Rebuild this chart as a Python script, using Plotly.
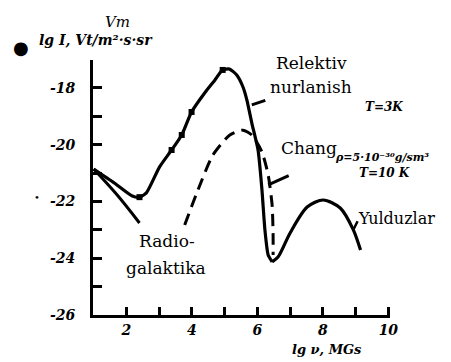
import plotly.graph_objects as go

# ---- data ----
rel_x = [1.0, 1.63, 2.18, 2.40, 2.61, 3.01, 3.38, 3.69, 3.99, 4.39, 4.70, 4.94, 5.15, 5.37, 5.56, 5.68, 5.83, 6.02, 6.14, 6.23, 6.33, 6.45]
rel_y = [-20.86, -21.35, -21.81, -21.85, -21.70, -20.79, -20.19, -19.66, -18.85, -18.18, -17.73, -17.37, -17.34, -17.55, -17.97, -18.43, -19.24, -20.19, -21.60, -23.0, -23.89, -24.13]

yul_x = [6.45, 6.63, 7.0, 7.52, 8.01, 8.53, 8.93, 9.15]
yul_y = [-24.13, -23.96, -23.11, -22.2, -21.95, -22.23, -23.0, -23.71]

radio_x = [1.0, 1.7, 2.40]
radio_y = [-20.86, -21.75, -22.76]

chang_x = [3.78, 4.15, 4.64, 5.16, 5.56, 5.83, 6.14, 6.33, 6.45, 6.48, 6.48]
chang_y = [-22.83, -21.70, -20.37, -19.66, -19.49, -19.66, -20.26, -21.07, -22.13, -23.18, -23.89]

obs_x = [2.40, 3.38, 3.69, 3.99, 4.94]
obs_y = [-21.85, -20.19, -19.66, -18.85, -17.37]

x_ticks = [2, 4, 6, 8, 10]
y_ticks = [-26, -24, -22, -20, -18]

# page offset of the browser's default body margin
OFF = 8
W, H = 451 - OFF, 362 - OFF
L, R, T, B = 93 - OFF, 390 - OFF, 60 - OFF, 315 - OFF

def px(x):
    return (x - OFF - L) / (R - L)

def py(y):
    return (B - (y - OFF)) / (B - T)

fig = go.Figure()
fig.add_trace(go.Scatter(x=rel_x, y=rel_y, mode="lines", line=dict(color="black", width=3.2, shape="spline", smoothing=0.6), hoverinfo="skip"))
fig.add_trace(go.Scatter(x=yul_x, y=yul_y, mode="lines", line=dict(color="black", width=3.2, shape="spline", smoothing=0.8), hoverinfo="skip"))
fig.add_trace(go.Scatter(x=radio_x, y=radio_y, mode="lines", line=dict(color="black", width=3, shape="spline"), hoverinfo="skip"))
fig.add_trace(go.Scatter(x=chang_x, y=chang_y, mode="lines", line=dict(color="black", width=3, dash="12px,7px", shape="spline", smoothing=0.6), hoverinfo="skip"))
fig.add_trace(go.Scatter(x=obs_x, y=obs_y, mode="markers", marker=dict(color="black", size=6, symbol="square"), hoverinfo="skip"))

serif = "DejaVu Serif, Liberation Serif, serif"
tick_font = dict(family=serif, size=14, color="black", weight="bold", style="italic")

fig.update_layout(
    width=W, height=H,
    margin=dict(l=L, r=W - R, t=T, b=H - B),
    paper_bgcolor="white", plot_bgcolor="white",
    showlegend=False,
    xaxis=dict(range=[0.98, 10.05], showgrid=False, zeroline=False, showline=True, linewidth=3, linecolor="black",
               tickvals=x_ticks, ticks="inside", ticklen=8, tickwidth=3, tickcolor="black", tickfont=tick_font,
               minor=dict(dtick=1, tick0=0, ticks="inside", ticklen=8, tickwidth=3, tickcolor="black")),
    yaxis=dict(range=[-26, -17.02], showgrid=False, zeroline=False, showline=True, linewidth=3, linecolor="black",
               tickvals=y_ticks, ticktext=[str(v) for v in y_ticks], ticks="inside", ticklen=9, tickwidth=3,
               tickcolor="black", tickfont=tick_font, ticklabelstandoff=12,
               minor=dict(dtick=1, tick0=-26, ticks="inside", ticklen=9, tickwidth=3, tickcolor="black")),
)

def label(text, x, y, size=18, bold=False, italic=False, xanchor="center"):
    fig.add_annotation(text=text, x=px(x), y=py(y), xref="paper", yref="paper", showarrow=False,
                       xanchor=xanchor, yanchor="middle",
                       font=dict(family=serif, size=size, color="black",
                                 weight="bold" if bold else "normal",
                                 style="italic" if italic else "normal"))

label("Relektiv", 311, 63, 17)
label("nurlanish", 311, 87, 17)
label("Chang", 309, 148, 17)
label("Yulduzlar", 356, 218, 16, xanchor="left")
label("Radio-", 167, 241, 17)
label("galaktika", 166, 268, 17)
label("T=3K", 363, 107, 12, bold=True, italic=True, xanchor="left")
label("ρ=5·10⁻³⁰g/sm³", 333, 157, 11, bold=True, italic=True, xanchor="left")
label("T=10 K", 357, 173, 12, bold=True, italic=True, xanchor="left")
label("Vm", 117, 22, 15, italic=True)
label("lg I, Vt/m²·s·sr", 37, 40, 14, bold=True, italic=True, xanchor="left")
label("●", 21, 48, 18)
label("•", 37, 197, 10)
label("lg ν, MGs", 327, 349, 13, bold=True, italic=True)

# leader lines
fig.add_annotation(x=5.83, y=-18.6, ax=15, ay=-5, showarrow=True, arrowhead=0, arrowwidth=3, arrowcolor="black", text="")
fig.add_annotation(x=6.33, y=-21.42, ax=22, ay=-10, showarrow=True, arrowhead=0, arrowwidth=3, arrowcolor="black", text="")
fig.add_annotation(x=8.93, y=-23.0, ax=5, ay=-10, showarrow=True, arrowhead=0, arrowwidth=2.5, arrowcolor="black", text="")

fig.write_html("out.html")
